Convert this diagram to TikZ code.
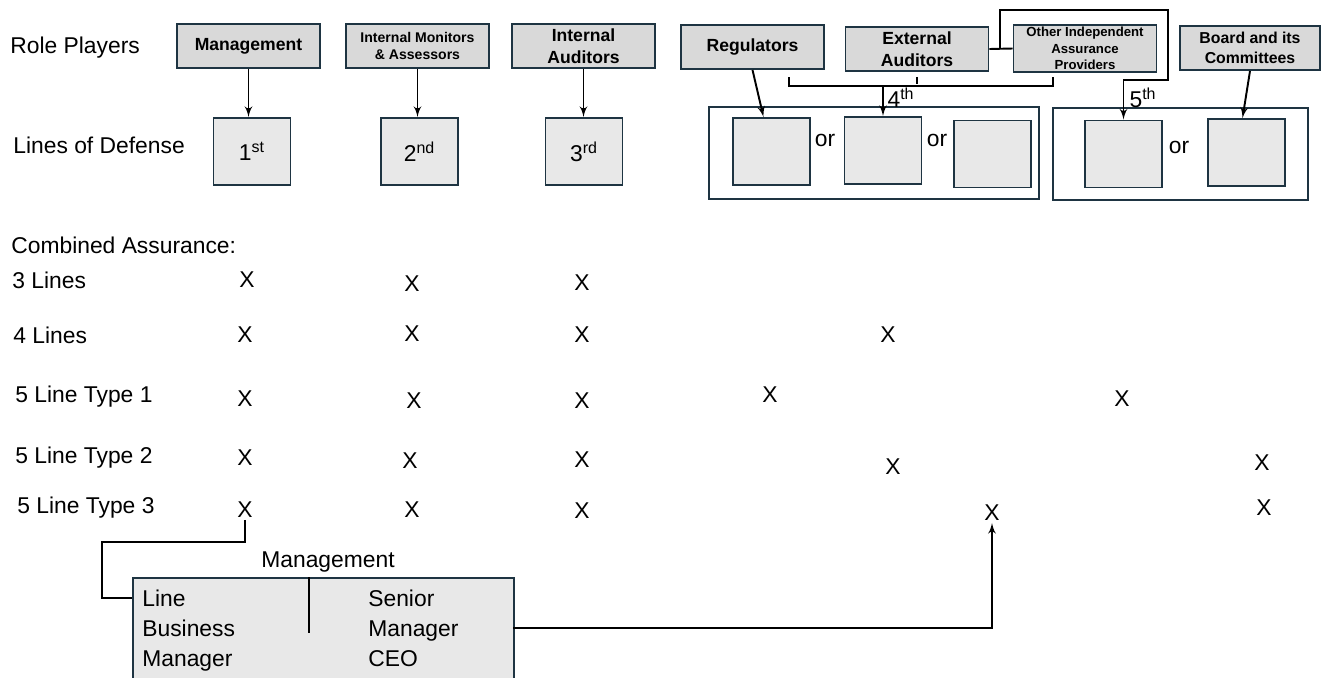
\documentclass[tikz,border=0pt]{standalone}
\usepackage{fontspec}
\setmainfont{Liberation Sans}
\usepackage{tikz}
\usetikzlibrary{shapes,arrows,positioning,calc}

\definecolor{edge}{HTML}{1E3442}
\definecolor{rolefill}{HTML}{D9D9D9}
\definecolor{boxfill}{HTML}{E8E8E8}
\newcommand{\txtfont}{\fontsize{13}{17}\selectfont}

\begin{document}
\begin{tikzpicture}[
    x=0.02cm, y=-0.02cm,
    role/.style={rectangle, draw=edge, line width=1.1pt, fill=rolefill, minimum width=2.86cm, minimum height=0.88cm, inner sep=1pt, align=center, font=\bfseries\fontsize{10}{12.5}\selectfont},
    defbox/.style={rectangle, draw=edge, line width=1.1pt, fill=boxfill, minimum width=1.54cm, minimum height=1.34cm, font=\txtfont},
    group/.style={rectangle, draw=edge, line width=1.1pt},
    txt/.style={anchor=west, inner sep=0pt, font=\txtfont},
    xmark/.style={inner sep=1pt, font=\txtfont},
    line/.style={draw, -latex', line width=1.1pt},
    link/.style={draw, line width=1.1pt}
]
    \useasboundingbox (0,0) rectangle (1322,677);

    % Row labels
    \node [txt] (rp) at (10,48) {Role Players};
    \node [txt] (lod) at (13,145) {Lines of Defense};
    \node [txt] (ca) at (11,245) {Combined Assurance:};
    \node [txt] (r1) at (12,280) {3 Lines};
    \node [txt] (r2) at (13,335) {4 Lines};
    \node [txt] (r3) at (15,397) {5 Line Type 1};
    \node [txt] (r4) at (15,458) {5 Line Type 2};
    \node [txt] (r5) at (17,508) {5 Line Type 3};

    % Role players
    \node [role] (mgmt) at (248.5,46) {Management};
    \node [role, font=\bfseries\fontsize{8}{10.2}\selectfont] (imon) at (417.5,46) {Internal Monitors\\\& Assessors};
    \node [role] (iaud) at (583.5,46) {Internal\\Auditors};
    \node [role] (reg) at (752.5,47) {Regulators};
    \node [role] (eaud) at (917,49) {External\\Auditors};
    \node [role, minimum height=0.9cm, font=\bfseries\fontsize{7.5}{9.4}\selectfont] (oiap) at (1085,48.5) {Other Independent\\Assurance\\Providers};
    \node [role, minimum width=2.8cm, font=\bfseries\fontsize{9}{11.4}\selectfont] (board) at (1250,48) {Board and its\\Committees};

    % Lines of defense
    \node [defbox] (first) at (252,151.5) {1\textsuperscript{st}};
    \node [defbox] (second) at (419.5,151.5) {2\textsuperscript{nd}};
    \node [defbox] (third) at (584,151.5) {3\textsuperscript{rd}};

    \node [group, minimum width=6.6cm, minimum height=1.84cm] (grpfour) at (874,153) {};
    \node [defbox] (inna) at (771.5,151.5) {};
    \node [defbox] (innb) at (883,150.5) {};
    \node [defbox] (innc) at (992.5,154) {};
    \node [txt, anchor=center] (or1) at (825,140) {or};
    \node [txt, anchor=center] (or2) at (937,140) {or};
    \node [txt, anchor=center] (fourth) at (901,98) {4\textsuperscript{th}};

    \node [group, minimum width=5.1cm, minimum height=1.84cm] (grpfive) at (1180.5,154) {};
    \node [defbox] (innd) at (1123.5,154) {};
    \node [defbox] (inne) at (1246.5,152.5) {};
    \node [txt, anchor=center] (or3) at (1179,147.5) {or};
    \node [txt, anchor=center] (fifth) at (1143,98) {5\textsuperscript{th}};

    % Connections
    \draw [line] (mgmt.south) -- (mgmt.south |- first.north);
    \draw [line] (imon.south) -- (imon.south |- second.north);
    \draw [line] (iaud.south) -- (iaud.south |- third.north);
    \draw [line] (reg.south) -- ($(inna.north)+(-8,0)$);
    \draw [line] (board.south) -- ($(inne.north)+(-4,0)$);

    \coordinate (brl) at (789,77);
    \coordinate (brr) at (1053,77);
    \draw [link] (brl) -- ++(0,9) -| (brr);
    \draw [link] ($(eaud.south)+(0,5)$) -- ++(0,7);
    \draw [line] (innb.north |- 0,86) -- (innb.north);

    \coordinate (junc) at (1000,48.5);
    \coordinate (topr) at (1168,10);
    \coordinate (midr) at (1168,80);
    \draw [link] (eaud.east) -- (oiap.west);
    \draw [line] (junc) |- (topr) -- (midr) -| (innd.north);

    % Combined assurance
    \node [xmark] (x11) at (247,280) {X};
    \node [xmark] (x12) at (412,284) {X};
    \node [xmark] (x13) at (582,283) {X};

    \node [xmark] (x21) at (245,335) {X};
    \node [xmark] (x22) at (412,334) {X};
    \node [xmark] (x23) at (582,335) {X};
    \node [xmark] (x24) at (888,335) {X};

    \node [xmark] (x31) at (245,399) {X};
    \node [xmark] (x32) at (414,401) {X};
    \node [xmark] (x33) at (582,401) {X};
    \node [xmark] (x34) at (770,395) {X};
    \node [xmark] (x35) at (1122,399) {X};

    \node [xmark] (x41) at (245,458) {X};
    \node [xmark] (x42) at (410,461) {X};
    \node [xmark] (x43) at (582,460) {X};
    \node [xmark] (x44) at (893,467) {X};
    \node [xmark] (x45) at (1262,463) {X};

    \node [xmark] (x51) at (245,510) {X};
    \node [xmark] (x52) at (412,510) {X};
    \node [xmark] (x53) at (582,511) {X};
    \node [xmark] (x54) at (992,513) {X};
    \node [xmark] (x55) at (1264,508) {X};

    % Management detail
    \node [rectangle, draw=edge, line width=1.1pt, fill=boxfill, minimum width=7.62cm, minimum height=2.3cm, anchor=north west] (mgbox) at (132,577) {};
    \node [font=\txtfont, inner sep=0pt] (mgtitle) at (328,562) {Management};
    \draw [line width=1.1pt] ($(mgbox.north west)+(177,0)$) -- ++(0,56);
    \node [txt, align=left] (lbm) at (142,630.5) {Line\\Business\\Manager};
    \node [txt, align=left] (sm) at (368,628) {Senior\\Manager\\CEO};

    \coordinate (lbend) at (102,542);
    \coordinate (mgin) at (132,598);
    \coordinate (mgout) at (513,628);
    \draw [link] (x51.south) |- (lbend) |- (mgin);
    \draw [line] (mgout) -| (x54.south);

\end{tikzpicture}
\end{document}
